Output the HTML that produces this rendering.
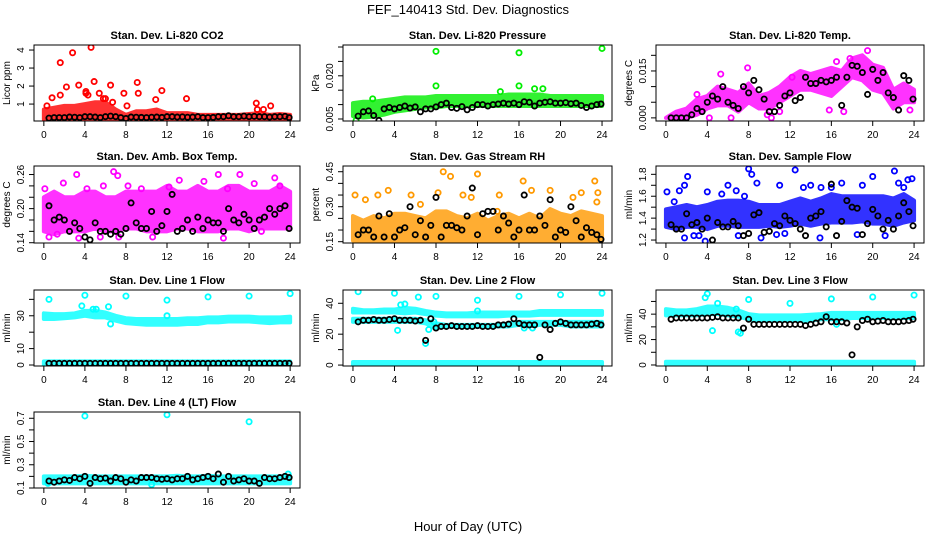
<!DOCTYPE html>
<html><head><meta charset="utf-8"><style>
html,body{margin:0;padding:0;background:#fff;}
svg{display:block;font-family:"Liberation Sans",Arial,sans-serif;}
</style></head><body>
<svg id="chart" width="936" height="540" viewBox="0 0 936 540">
<rect width="936" height="540" fill="#fff"/>
<text x="468" y="14" text-anchor="middle" font-size="13">FEF_140413  Std. Dev. Diagnostics</text>
<text x="468" y="531" text-anchor="middle" font-size="13">Hour of Day (UTC)</text>
</svg>
<script>
const hourTicks=[0,4,8,12,16,20,24];
const bandHours=[0,1,2,3,4,5,6,7,8,9,10,11,12,13,14,15,16,17,18,19,20,21,22,23,24];
const blackHours=[0.5,1,1.5,2,2.5,3,3.5,4,4.5,5,5.5,6,6.5,7,7.5,8,8.5,9,9.5,10,10.5,11,11.5,12,12.5,13,13.5,14,14.5,15,15.5,16,16.5,17,17.5,18,18.5,19,19.5,20,20.5,21,21.5,22,22.5,23,23.5,23.9];

const co2Black=[0.22,0.25,0.25,0.25,0.28,0.27,0.25,0.3,0.3,0.28,0.25,0.3,0.33,0.3,0.25,0.2,0.28,0.27,0.26,0.25,0.27,0.28,0.26,0.3,0.3,0.28,0.29,0.27,0.28,0.3,0.25,0.25,0.26,0.3,0.3,0.35,0.3,0.3,0.33,0.3,0.32,0.3,0.3,0.28,0.3,0.3,0.32,0.25];
const co2Lo=[0.15,0.15,0.15,0.15,0.15,0.15,0.15,0.15,0.15,0.15,0.15,0.15,0.15,0.15,0.15,0.15,0.15,0.15,0.15,0.15,0.15,0.15,0.15,0.15,0.15];
const co2Hi=[0.7,0.8,0.9,0.9,1.0,1.1,1.1,0.7,0.4,0.6,0.6,0.7,0.5,0.5,0.5,0.4,0.4,0.4,0.4,0.4,0.45,0.5,0.4,0.45,0.4];
const co2OutX=[0.3,0.8,1.6,1.6,2.2,2.8,3.4,4.1,4.3,4.6,4.9,5.4,6.5,6.7,7.8,8.1,9.1,9.2,10.9,11.5,13.9,20.7,20.8,22.1,21.4,4.1,5.8,6.0];
const co2OutY=[0.9,1.35,3.3,1.5,1.95,3.85,2.05,1.6,1.5,4.15,2.25,1.6,2.05,1.1,1.6,0.9,2.2,1.6,1.25,1.75,1.3,1.05,0.7,0.9,0.7,1.7,1.3,1.3];

const presBlack=[0.006,0.0075,0.0078,0.0062,0.0045,0.0085,0.009,0.0085,0.009,0.0095,0.0088,0.0092,0.0075,0.0085,0.0085,0.0092,0.01,0.0105,0.009,0.0087,0.0093,0.0082,0.009,0.01,0.01,0.0095,0.01,0.0102,0.0105,0.0102,0.0105,0.01,0.011,0.0108,0.0095,0.0105,0.0108,0.011,0.0105,0.0105,0.0107,0.0103,0.0105,0.0097,0.009,0.0095,0.01,0.0102];
const presLo=[0.006,0.0055,0.0058,0.0065,0.0075,0.008,0.0085,0.009,0.009,0.0095,0.0095,0.0095,0.0095,0.0095,0.0095,0.0095,0.0095,0.0095,0.0095,0.0095,0.0095,0.0095,0.0095,0.0095,0.0095];
const presHi=[0.0105,0.011,0.011,0.0115,0.012,0.0125,0.0125,0.0125,0.013,0.013,0.013,0.013,0.013,0.013,0.013,0.0135,0.0135,0.0135,0.0135,0.013,0.013,0.013,0.013,0.013,0.013];
const presOutX=[8,16,24,8,16,0.3,17.5,18.3,14.2,1.9];
const presOutY=[0.0285,0.028,0.0295,0.0165,0.0165,0.0045,0.0155,0.0155,0.0145,0.012];

const tempBlack=[0,0,0,0,0.001,0.003,0.002,0.005,0.007,0.006,0.01,0.005,0.004,0.003,0.01,0.008,0.012,0.009,0.006,0.002,0.002,0.004,0.007,0.008,0.0055,0.0065,0.013,0.011,0.011,0.012,0.0115,0.012,0.013,0.004,0.013,0.0168,0.0165,0.0145,0.0075,0.0155,0.012,0.0145,0.008,0.0065,0.0025,0.0135,0.012,0.006];
const tempLo=[0,0,0,0.001,0.003,0.004,0.004,0.002,0.005,0.003,0.003,0.005,0.007,0.009,0.009,0.008,0.007,0.01,0.013,0.012,0.009,0.008,0.003,0.005,0.005];
const tempHi=[0,0.002,0.003,0.006,0.007,0.010,0.009,0.008,0.011,0.007,0.008,0.010,0.013,0.015,0.014,0.015,0.016,0.015,0.019,0.020,0.017,0.016,0.009,0.011,0.009];
const tempOutX=[3,5.3,7.9,10.2,12.2,16.5,19.5,17.8,23.6,9.8,6.3,4.2,15.8,11,17.2];
const tempOutY=[0.0075,0.014,0.016,0,0.013,0.018,0.0215,0.019,0.0025,0.001,0,0,0.0025,0.002,0.002];

const ambBlack=[0.205,0.18,0.185,0.18,0.16,0.175,0.165,0.15,0.145,0.175,0.16,0.16,0.155,0.16,0.155,0.165,0.21,0.175,0.165,0.165,0.195,0.16,0.17,0.195,0.225,0.16,0.165,0.18,0.16,0.185,0.165,0.18,0.175,0.175,0.16,0.2,0.18,0.175,0.19,0.18,0.165,0.18,0.185,0.2,0.19,0.2,0.205,0.165];
const ambLo=[0.16,0.155,0.16,0.16,0.16,0.165,0.16,0.16,0.165,0.165,0.16,0.16,0.16,0.165,0.165,0.16,0.16,0.16,0.165,0.165,0.16,0.165,0.165,0.165,0.165];
const ambHi=[0.22,0.23,0.22,0.22,0.23,0.23,0.22,0.22,0.23,0.23,0.23,0.23,0.24,0.23,0.23,0.24,0.23,0.23,0.24,0.24,0.23,0.23,0.23,0.24,0.23];
const ambOutX=[0.1,1.9,3.2,4.2,6.8,7.2,8.2,9.5,12.2,15.6,17.0,17.9,19.1,20.5,22.5,23.0,0.5,1.3,3.4,5.5,7.3,10.6,17.5,21.2,13.2,5.8];
const ambOutY=[0.235,0.245,0.26,0.235,0.265,0.258,0.24,0.235,0.238,0.248,0.26,0.235,0.26,0.244,0.254,0.24,0.15,0.155,0.148,0.15,0.15,0.15,0.148,0.16,0.25,0.24];

const rhBlack=[0.18,0.2,0.2,0.17,0.26,0.17,0.27,0.17,0.2,0.21,0.3,0.18,0.24,0.17,0.22,0.34,0.17,0.22,0.22,0.21,0.2,0.26,0.38,0.18,0.27,0.28,0.28,0.2,0.26,0.23,0.17,0.2,0.35,0.2,0.2,0.26,0.22,0.33,0.17,0.2,0.19,0.3,0.24,0.17,0.21,0.19,0.18,0.16];
const rhLo=[0.155,0.155,0.155,0.155,0.155,0.155,0.155,0.155,0.155,0.155,0.155,0.155,0.155,0.155,0.155,0.155,0.155,0.155,0.155,0.155,0.155,0.155,0.155,0.155,0.155];
const rhHi=[0.26,0.24,0.26,0.25,0.27,0.27,0.26,0.25,0.28,0.28,0.26,0.25,0.27,0.24,0.26,0.27,0.25,0.27,0.25,0.29,0.27,0.26,0.28,0.27,0.26];
const rhOutX=[0.2,1.2,2.4,3.4,5.6,8.2,9.4,10.6,12.0,8.7,11.4,14.1,16.4,17.2,19.0,21.2,22.0,23.3,23.6,23.5,13.9,6.5];
const rhOutY=[0.35,0.33,0.35,0.37,0.35,0.36,0.43,0.35,0.44,0.45,0.34,0.35,0.41,0.37,0.37,0.34,0.36,0.41,0.36,0.32,0.28,0.31];

const sfBlack=[1.34,1.3,1.3,1.44,1.34,1.36,1.3,1.4,1.2,1.36,1.32,1.32,1.37,1.33,1.24,1.26,1.43,1.45,1.27,1.28,1.35,1.33,1.42,1.38,1.35,1.3,1.24,1.4,1.42,1.46,1.32,1.71,1.24,1.37,1.56,1.5,1.49,1.25,1.35,1.48,1.42,1.3,1.38,1.3,1.42,1.54,1.46,1.33];
const sfLo=[1.32,1.3,1.32,1.32,1.3,1.33,1.33,1.32,1.32,1.32,1.33,1.32,1.33,1.35,1.33,1.35,1.36,1.36,1.36,1.37,1.35,1.35,1.33,1.36,1.38];
const sfHi=[1.48,1.5,1.52,1.5,1.52,1.55,1.56,1.56,1.55,1.52,1.52,1.52,1.55,1.58,1.55,1.58,1.62,1.6,1.6,1.6,1.6,1.6,1.58,1.62,1.56];
const sfOutX=[0.1,0.8,1.3,1.8,2.1,1.8,3.2,3.8,4.0,5.4,6.0,6.8,8.0,8.3,8.8,7.6,11.0,12.5,13.3,14.0,15.0,16.0,17.0,19.0,20.0,22.1,22.5,23.4,23.8,23.0,2.7,9.2,10.7,14.9,18.5,21.2,7.0,11.5];
const sfOutY=[1.64,1.55,1.65,1.7,1.78,1.22,1.24,1.19,1.64,1.62,1.7,1.65,1.85,1.8,1.72,1.6,1.7,1.84,1.68,1.7,1.68,1.68,1.72,1.7,1.78,1.83,1.72,1.75,1.76,1.68,1.24,1.22,1.25,1.22,1.25,1.24,1.24,1.26];

const l1Black=[1,1,1,1,1,1,1,1,1,1,1,1,1,1,1,1,1,1,1,1,1,1,1,1,1,1,1,1,1,1,1,1,1,1,1,1,1,1,1,1,1,1,1,1,1,1,1,1];
const l1Lo=[28,28,28.5,29,30,29,29,27,25.5,25,24.5,24.5,24.5,24.5,25,25,26,26,26.5,26.5,26.5,26,25.5,26,26];
const l1Hi=[31.5,31,31,31.5,33,33,32,30,28.5,28,28,28,28,28,28.5,28.5,29,29,29.5,29.5,29.5,29,29,29,29.5];
const l1ZeroLo=[-0.3,-0.3,-0.3,-0.3,-0.3,-0.3,-0.3,-0.3,-0.3,-0.3,-0.3,-0.3,-0.3,-0.3,-0.3,-0.3,-0.3,-0.3,-0.3,-0.3,-0.3,-0.3,-0.3,-0.3,-0.3];
const l1ZeroHi=[2.2,2.2,2.2,2.2,2.2,2.2,2.2,2.2,2.2,2.2,2.2,2.2,2.2,2.2,2.2,2.2,2.2,2.2,2.2,2.2,2.2,2.2,2.2,2.2,2.2];
const l1OutX=[0.5,4,8,12,16,20,24,3.7,6.3,4.8,5.1,6.5,12];
const l1OutY=[40,42.5,42,39.5,41.5,42,43.5,36,35.5,34,34,25,30];

const l2Black=[28,29,29,29.5,29,29,29.5,30,29,29,29,28.5,29,16,30,24,25,25,25.5,25,25,25,25,25.5,25,25,25,26,26,26.5,30,27,26,26,26,5,26,23,27,28,27,26,26,26,26,26.5,27,26];
const l2Lo=[34,34,34,34,34,33.5,34,33,32,31.5,31.5,31.5,31.5,31.5,31.5,32,32,32,32.5,32.5,32.5,32.5,32.5,32.5,32.5];
const l2Hi=[36.5,35.5,35.5,36,36,37,36.5,35,34,33.5,33.5,33.5,34,34,34,34,34,34,35,35,35,35,35,35,35];
const l2MidLo=[28,28,28,28,28,28,28,27,24,25,25,25,25,25,25,25,26,25,26,26,26,25,25,25,25];
const l2MidHi=[30,30,30,30,30,30,30,29,27,26,26,26,26,26,26,27,28,28,28,28,28,28,28,28,28];
const l2ZeroLo=[-0.3,-0.3,-0.3,-0.3,-0.3,-0.3,-0.3,-0.3,-0.3,-0.3,-0.3,-0.3,-0.3,-0.3,-0.3,-0.3,-0.3,-0.3,-0.3,-0.3,-0.3,-0.3,-0.3,-0.3,-0.3];
const l2ZeroHi=[2,2,2,2,2,2,2,2,2,2,2,2,2,2,2,2,2,2,2,2,2,2,2,2,2];
const l2OutX=[0.5,4,8,12,16,20,24,4.3,4.6,5,6.3,7,7.3,7.8,12,16.5,17.3];
const l2OutY=[47.5,46.5,44.5,42,44.5,45.5,46.5,22.5,39,39.5,44,14,23,28,35,24,24];

const l3Black=[36,37,37,37,37,37,37,37,37.5,38,37,37,37,37,29,36,32,32,32,32,32,32,32,32,32,32,31,32,33,34,38,34,34,34,33,8,30,35,36,34,34.5,35,34,34,34,34.5,35,36];
const l3Lo=[39,39,39,39,40,40,39,38,36,35,35,35,35,35,35,36,36,36,37,37,37,37,37,37,37];
const l3Hi=[44,43,43,44,46,46,45,43,40,39,39,39,39,39,39.5,40,41,41,41,41,41,41,41,41,41];
const l3ZeroLo=[-0.5,-0.5,-0.5,-0.5,-0.5,-0.5,-0.5,-0.5,-0.5,-0.5,-0.5,-0.5,-0.5,-0.5,-0.5,-0.5,-0.5,-0.5,-0.5,-0.5,-0.5,-0.5,-0.5,-0.5,-0.5];
const l3ZeroHi=[2.5,2.5,2.5,2.5,2.5,2.5,2.5,2.5,2.5,2.5,2.5,2.5,2.5,2.5,2.5,2.5,2.5,2.5,2.5,2.5,2.5,2.5,2.5,2.5,2.5];
const l3OutX=[4,3.8,5,8,12,16,20,24,4.5,7,7.2,16.5,6.8];
const l3OutY=[56,53,48.5,51.5,48.5,52,53.5,55,27,26,25,32,44];

const l4Black=[0.16,0.15,0.16,0.17,0.165,0.19,0.18,0.2,0.14,0.19,0.18,0.185,0.16,0.19,0.18,0.15,0.17,0.16,0.19,0.19,0.19,0.18,0.175,0.18,0.17,0.18,0.18,0.2,0.17,0.18,0.19,0.2,0.18,0.22,0.15,0.2,0.16,0.17,0.18,0.16,0.16,0.14,0.19,0.18,0.18,0.19,0.2,0.19];
const l4Lo=[0.14,0.14,0.14,0.14,0.14,0.14,0.14,0.14,0.14,0.14,0.14,0.14,0.14,0.14,0.14,0.14,0.14,0.14,0.14,0.14,0.14,0.14,0.14,0.14,0.14];
const l4Hi=[0.2,0.2,0.2,0.2,0.205,0.2,0.2,0.2,0.2,0.2,0.2,0.2,0.2,0.205,0.2,0.2,0.205,0.2,0.2,0.2,0.2,0.2,0.2,0.2,0.205];
const l4OutX=[4,12,20,10.5,0.4,23.8];
const l4OutY=[0.72,0.73,0.67,0.13,0.14,0.22];

const panels=[
 {name:'co2',title:'Stan. Dev. Li-820 CO2',yt:'Licor ppm',box:[34,45,300,121],ymin:0.06,ymax:4.28,ticks:[1,2,3,4],labels:['1','2','3','4'],color:'#ff0000',bands:[[co2Lo,co2Hi]],ox:co2OutX,oy:co2OutY,black:co2Black},
 {name:'pressure',title:'Stan. Dev. Li-820 Pressure',yt:'kPa',box:[343,45,612,121],ymin:0.0043,ymax:0.0307,ticks:[0.005,0.01,0.015,0.02,0.025,0.03],labels:['0.005','','','0.020','',''],color:'#00ee00',bands:[[presLo,presHi]],ox:presOutX,oy:presOutY,black:presBlack},
 {name:'li820-temp',title:'Stan. Dev. Li-820 Temp.',yt:'degrees C',box:[656,45,924,121],ymin:-0.001,ymax:0.0233,ticks:[0,0.005,0.01,0.015,0.02],labels:['0.000','','','0.015',''],color:'#ff00ff',bands:[[tempLo,tempHi]],ox:tempOutX,oy:tempOutY,black:tempBlack},
 {name:'amb-box-temp',title:'Stan. Dev. Amb. Box Temp.',yt:'degrees C',box:[34,166,300,243],ymin:0.1395,ymax:0.275,ticks:[0.14,0.16,0.18,0.2,0.22,0.24,0.26],labels:['0.14','','','0.20','','','0.26'],color:'#ff00ff',bands:[[ambLo,ambHi]],ox:ambOutX,oy:ambOutY,black:ambBlack},
 {name:'gas-stream-rh',title:'Stan. Dev. Gas Stream RH',yt:'percent',box:[343,166,612,243],ymin:0.1444,ymax:0.4745,ticks:[0.15,0.2,0.25,0.3,0.35,0.4,0.45],labels:['0.15','','','0.30','','','0.45'],color:'#ff9900',bands:[[rhLo,rhHi]],ox:rhOutX,oy:rhOutY,black:rhBlack},
 {name:'sample-flow',title:'Stan. Dev. Sample Flow',yt:'ml/min',box:[656,166,924,243],ymin:1.173,ymax:1.876,ticks:[1.2,1.3,1.4,1.5,1.6,1.7,1.8],labels:['1.2','','1.4','','1.6','','1.8'],color:'#0000ff',bands:[[sfLo,sfHi]],ox:sfOutX,oy:sfOutY,black:sfBlack},
 {name:'line1-flow',title:'Stan. Dev. Line 1 Flow',yt:'ml/min',box:[34,290,300,366],ymin:-0.6,ymax:45.7,ticks:[0,10,20,30,40],labels:['0','10','','30',''],color:'#00ffff',bands:[[l1Lo,l1Hi],[l1ZeroLo,l1ZeroHi]],ox:l1OutX,oy:l1OutY,black:l1Black},
 {name:'line2-flow',title:'Stan. Dev. Line 2 Flow',yt:'ml/min',box:[343,290,612,366],ymin:-0.6,ymax:48.6,ticks:[0,10,20,30,40],labels:['0','','20','','40'],color:'#00ffff',bands:[[l2Lo,l2Hi],[l2MidLo,l2MidHi],[l2ZeroLo,l2ZeroHi]],ox:l2OutX,oy:l2OutY,black:l2Black},
 {name:'line3-flow',title:'Stan. Dev. Line 3 Flow',yt:'ml/min',box:[656,290,924,366],ymin:-0.8,ymax:59,ticks:[0,10,20,30,40,50],labels:['0','','20','','40',''],color:'#00ffff',bands:[[l3Lo,l3Hi],[l3ZeroLo,l3ZeroHi]],ox:l3OutX,oy:l3OutY,black:l3Black},
 {name:'line4-flow',title:'Stan. Dev. Line 4 (LT) Flow',yt:'ml/min',box:[34,412,300,488],ymin:0.1,ymax:0.754,ticks:[0.1,0.2,0.3,0.4,0.5,0.6,0.7],labels:['0.1','','0.3','','0.5','','0.7'],color:'#00ffff',bands:[[l4Lo,l4Hi]],ox:l4OutX,oy:l4OutY,black:l4Black}
];

const NS='http://www.w3.org/2000/svg';
const svg=document.getElementById('chart');
function mk(tag,attrs,parent){const e=document.createElementNS(NS,tag);for(const k in attrs)e.setAttribute(k,attrs[k]);(parent||svg).appendChild(e);return e;}

panels.forEach(p=>{
 const [L,T,R,B]=p.box;
 const xs=h=>L+(h+0.96)*(R-L)/25.92;
 const ys=v=>B-(v-p.ymin)/(p.ymax-p.ymin)*(B-T);
 const g=mk('g',{});
 
 
 const clipId='clip-'+p.name;
 const cp=mk('clipPath',{id:clipId},g);
 mk('rect',{x:L,y:T,width:R-L,height:B-T},cp);
 const plot=mk('g',{'clip-path':'url(#'+clipId+')'},g);
 p.bands.forEach(b=>{
  let pts=bandHours.map((h,i)=>xs(h)+','+ys(b[1][i]));
  pts=pts.concat(bandHours.slice().reverse().map((h,j)=>{const i=bandHours.length-1-j;return xs(h)+','+ys(b[0][i]);}));
  const band=mk('polygon',{points:pts.join(' '),fill:p.color,opacity:0.8,stroke:p.color,'stroke-width':4,'stroke-linejoin':'round'},plot);
  
  
 });
 p.ox.forEach((h,i)=>{
  const c=mk('circle',{cx:xs(h),cy:ys(p.oy[i]),r:2.6,fill:'none',stroke:p.color,'stroke-width':1.8},plot);
  
  
 });
 blackHours.forEach((h,i)=>{
  const c=mk('circle',{cx:xs(h),cy:ys(p.black[i]),r:2.6,fill:'none',stroke:'#000','stroke-width':1.8},plot);
  
  
 });
 const box=mk('rect',{x:L,y:T,width:R-L,height:B-T,fill:'none',stroke:'#000','stroke-width':1},g);
 
 
 const t=mk('text',{x:(L+R)/2,y:T-6,'text-anchor':'middle','font-size':11,'font-weight':'bold'},g);
 t.textContent=p.title;
 
 
 hourTicks.forEach(h=>{
  const x=xs(h);
  mk('line',{x1:x,y1:B,x2:x,y2:B+5,stroke:'#000'},g);
  const tl=mk('text',{x:x,y:B+17,'text-anchor':'middle','font-size':10},g);
  tl.textContent=String(h);
  
  
 });
 p.ticks.forEach((v,i)=>{
  const y=ys(v);
  mk('line',{x1:L-5,y1:y,x2:L,y2:y,stroke:'#000'},g);
  if(p.labels[i]){
   const tl=mk('text',{x:L-10,y:y,'text-anchor':'middle','font-size':10,transform:'rotate(-90 '+(L-10)+' '+y+')'},g);
   tl.textContent=p.labels[i];
   
   
  }
 });
 const yc=(T+B)/2;
 const yt=mk('text',{x:L-24,y:yc,'text-anchor':'middle','font-size':10,transform:'rotate(-90 '+(L-24)+' '+yc+')'},g);
 yt.textContent=p.yt;
 
 
});
</script>
</body></html>
